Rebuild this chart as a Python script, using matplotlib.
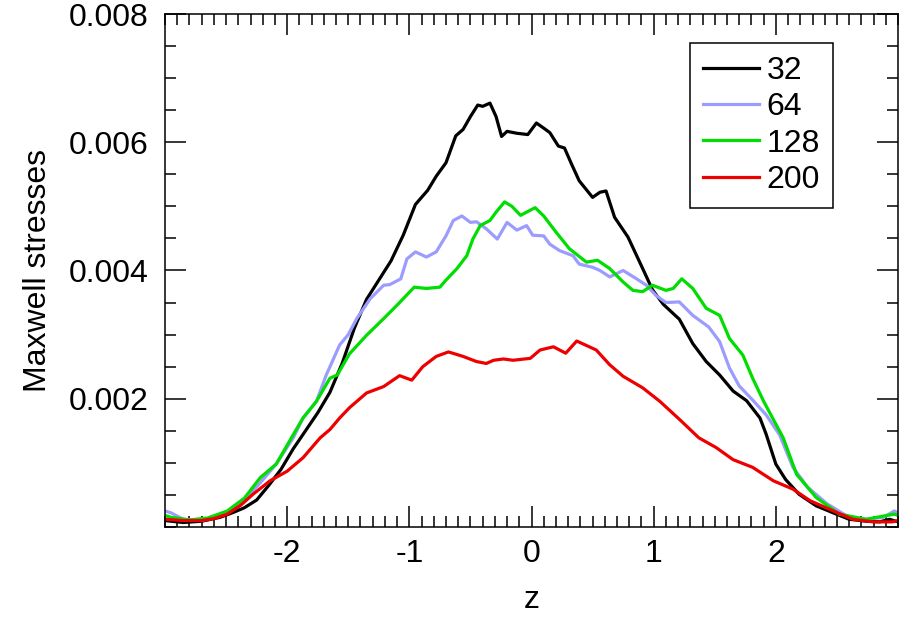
import numpy as np
import matplotlib
matplotlib.use("Agg")
import matplotlib.pyplot as plt
from matplotlib.ticker import MultipleLocator, FixedLocator

plt.rcParams['font.family'] = ['Liberation Sans', 'DejaVu Sans']

z_32 = [-3.00, -2.85, -2.70, -2.55, -2.45, -2.35, -2.25, -2.15, -2.05, -1.95, -1.85, -1.75,
        -1.65, -1.55, -1.45, -1.35, -1.25, -1.15, -1.05, -0.95, -0.85, -0.78, -0.70, -0.62,
        -0.56, -0.50, -0.44, -0.40, -0.34, -0.29, -0.245, -0.20, -0.12, -0.03, 0.04, 0.10,
        0.15, 0.22, 0.27, 0.33, 0.39, 0.50, 0.56, 0.61, 0.68, 0.79, 0.91, 0.99, 1.08, 1.21,
        1.32, 1.43, 1.54, 1.65, 1.76, 1.87, 1.92, 2.00, 2.08, 2.19, 2.33, 2.47, 2.60, 2.74,
        2.85, 2.93, 3.00]
s_32 = [0.10, 0.07, 0.09, 0.15, 0.22, 0.30, 0.42, 0.65, 0.90, 1.22, 1.50, 1.78,
        2.10, 2.55, 3.10, 3.55, 3.85, 4.15, 4.55, 5.03, 5.25, 5.47, 5.68, 6.10,
        6.20, 6.40, 6.58, 6.56, 6.61, 6.40, 6.09, 6.17, 6.14, 6.12, 6.30, 6.22,
        6.15, 5.94, 5.91, 5.65, 5.40, 5.14, 5.22, 5.24, 4.83, 4.52, 4.03, 3.70, 3.47, 3.24,
        2.86, 2.58, 2.37, 2.12, 1.97, 1.70, 1.45, 0.98, 0.74, 0.51, 0.33, 0.22, 0.12, 0.09,
        0.08, 0.12, 0.08]

z_64 = [-3.00, -2.95, -2.85, -2.70, -2.55, -2.45, -2.35, -2.22, -2.09, -1.95, -1.87, -1.76,
        -1.68, -1.57, -1.50, -1.43, -1.32, -1.21, -1.16, -1.07, -1.02, -0.95, -0.86, -0.78,
        -0.70, -0.64, -0.57, -0.50, -0.45, -0.37, -0.28, -0.20, -0.12, -0.04, 0.01, 0.10,
        0.15, 0.23, 0.34, 0.39, 0.50, 0.56, 0.64, 0.75, 0.86, 0.94, 1.02, 1.10, 1.21, 1.32,
        1.45, 1.54, 1.62, 1.70, 1.81, 1.92, 2.03, 2.14, 2.26, 2.42, 2.60, 2.74, 2.88, 2.97,
        3.00]
s_64 = [0.25, 0.22, 0.12, 0.10, 0.18, 0.28, 0.42, 0.69, 0.98, 1.39, 1.70, 1.96,
        2.37, 2.84, 3.00, 3.25, 3.56, 3.77, 3.78, 3.87, 4.18, 4.29, 4.21, 4.29,
        4.54, 4.78, 4.85, 4.75, 4.76, 4.65, 4.49, 4.75, 4.63, 4.70, 4.55, 4.54,
        4.41, 4.31, 4.23, 4.10, 4.05, 4.00, 3.90, 4.00, 3.87, 3.77, 3.61, 3.50, 3.51, 3.30,
        3.12, 2.89, 2.48, 2.20, 1.98, 1.75, 1.44, 0.93, 0.62, 0.36, 0.15, 0.12, 0.15, 0.25,
        0.22]

z_128 = [-3.00, -2.95, -2.80, -2.65, -2.49, -2.35, -2.22, -2.09, -1.95, -1.87, -1.76, -1.65,
         -1.59, -1.49, -1.35, -1.21, -1.10, -0.96, -0.86, -0.75, -0.70, -0.61, -0.53, -0.48,
         -0.42, -0.34, -0.29, -0.22, -0.16, -0.09, 0.03, 0.10, 0.20, 0.31, 0.45, 0.54,
         0.64, 0.75, 0.83, 0.91, 0.99, 1.10, 1.16, 1.23, 1.32, 1.43, 1.54, 1.62, 1.73, 1.81,
         1.90, 2.06, 2.17, 2.33, 2.52, 2.74, 2.88, 2.97, 3.00]
s_128 = [0.18, 0.15, 0.11, 0.14, 0.25, 0.45, 0.77, 0.98, 1.44, 1.70, 1.96, 2.32,
         2.37, 2.70, 2.99, 3.25, 3.46, 3.74, 3.72, 3.74, 3.85, 4.03, 4.23, 4.49,
         4.70, 4.78, 4.91, 5.07, 5.00, 4.86, 4.98, 4.85, 4.60, 4.34, 4.13, 4.16,
         4.03, 3.82, 3.69, 3.67, 3.77, 3.69, 3.72, 3.87, 3.72, 3.41, 3.30, 2.94, 2.68, 2.32,
         1.96, 1.39, 0.82, 0.46, 0.20, 0.12, 0.17, 0.20, 0.18]

z_200 = [-3.00, -2.85, -2.70, -2.60, -2.49, -2.38, -2.28, -2.14, -2.00, -1.87, -1.73, -1.65,
         -1.57, -1.49, -1.35, -1.21, -1.08, -0.98, -0.89, -0.78, -0.68, -0.56, -0.45, -0.37,
         -0.31, -0.23, -0.15, -0.01, 0.07, 0.18, 0.28, 0.37, 0.53, 0.64, 0.75, 0.91,
         1.05, 1.21, 1.37, 1.51, 1.65, 1.81, 1.98, 2.14, 2.28, 2.47, 2.63, 2.80, 2.95, 3.00]
s_200 = [0.12, 0.10, 0.10, 0.13, 0.20, 0.34, 0.51, 0.72, 0.87, 1.08, 1.39, 1.52,
         1.70, 1.86, 2.09, 2.19, 2.36, 2.29, 2.50, 2.66, 2.73, 2.66, 2.58, 2.55,
         2.60, 2.62, 2.60, 2.63, 2.76, 2.81, 2.71, 2.90, 2.76, 2.53, 2.35, 2.17,
         1.96, 1.68, 1.39, 1.24, 1.05, 0.93, 0.72, 0.59, 0.41, 0.25, 0.12, 0.08, 0.08, 0.10]

labels = ['32', '64', '128', '200']
colors = ['#000000', '#9c9cff', '#00dd00', '#ee0000']
curves = [(z_32, s_32), (z_64, s_64), (z_128, s_128), (z_200, s_200)]

fig = plt.figure(figsize=(9.06, 6.17), dpi=100)
ax = fig.add_axes([0.1821, 0.1459, 0.8091, 0.8314])

for (z, s), c, lab in zip(curves, colors, labels):
    ax.plot(z, np.array(s) * 1e-3, color=c, lw=2.3, label=lab)

ax.set_xlim(-3, 3)
ax.set_ylim(0, 0.008)

ax.xaxis.set_major_locator(FixedLocator([-2, -1, 0, 1, 2]))
ax.xaxis.set_minor_locator(MultipleLocator(0.1))
ax.yaxis.set_major_locator(FixedLocator([0.002, 0.004, 0.006, 0.008]))
ax.yaxis.set_minor_locator(MultipleLocator(0.0005))
ax.set_xticklabels(['-2', '-1', '0', '1', '2'])
ax.set_yticklabels(['0.002', '0.004', '0.006', '0.008'])

ax.tick_params(which='both', direction='in', top=True, right=True, width=1.1,
               labelsize=23)
ax.tick_params(which='major', length=15)
ax.tick_params(which='minor', length=8)
ax.tick_params(axis='x', which='major', pad=9)
ax.tick_params(axis='y', which='major', pad=12)
for sp in ax.spines.values():
    sp.set_linewidth(1.1)

ax.set_xlabel('z', fontsize=23, labelpad=11)
ax.set_ylabel('Maxwell stresses', fontsize=23, labelpad=11)

leg = ax.legend(loc='upper left', bbox_to_anchor=(0.716, 0.9435), fontsize=23,
                frameon=True, fancybox=False, edgecolor='black', framealpha=1,
                borderaxespad=0, handlelength=1.75, handletextpad=0.25,
                labelspacing=0.2, borderpad=0.4)
leg.get_frame().set_linewidth(1.1)

fig.savefig('out.png', dpi=100)
